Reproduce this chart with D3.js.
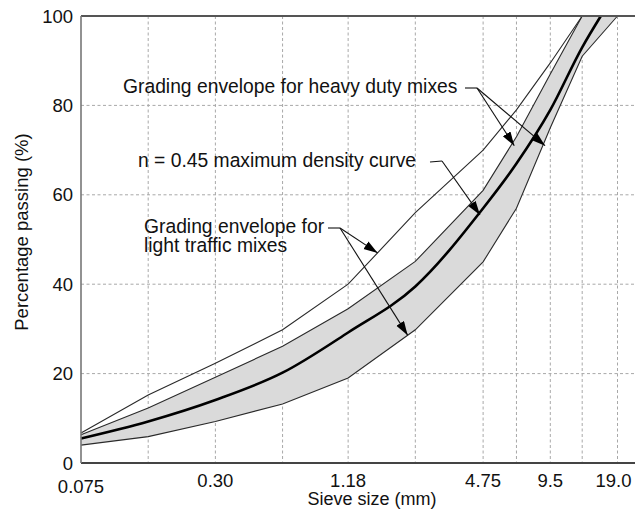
<!DOCTYPE html>
<meta charset="utf-8" />
<style>
    body { margin: 0; background: #fff; }
    svg { display: block; font-family: "Liberation Sans", Arial, sans-serif; }
    .grid line { stroke: #a8a8a8; stroke-width: 1; stroke-dasharray: 3, 2.5; }
    .env { fill: none; stroke: #2a2a2a; stroke-width: 1.1; }
    .leader { fill: none; stroke: #111; stroke-width: 1.1; }
</style>
<svg width="635" height="511"></svg>
<script src="https://d3js.org/d3.v7.min.js"></script>
<script>
    // sieve sizes (mm) on the log axis
    var sieveSizes = [0.075, 0.15, 0.3, 0.6, 1.18, 2.36, 4.75, 6.7, 9.5, 13.2, 19.0];
    var tickSizes = [0.075, 0.3, 1.18, 4.75, 9.5, 19.0];
    var tickLabels = ["0.075", "0.30", "1.18", "4.75", "9.5", "19.0"];
    var yTicks = [0, 20, 40, 60, 80, 100];

    // upper line of the envelopes (topmost thin line), up to 13.2 mm
    var upperLine = [6.7, 15.2, 22.3, 29.8, 40, 56, 70, 79, 89.5, 100];
    // upper edge of the shaded band, up to 13.2 mm
    var bandUpper = [6.3, 12.3, 19.2, 26.1, 34.5, 45.1, 61, 73, 87, 100];
    // lower edge of the shaded band, up to 19.0 mm
    var bandLower = [4.0, 5.9, 9.3, 13.2, 19.0, 29.8, 45, 57, 75, 91, 100];
    // n = 0.45 maximum density curve
    var densitySizes = [0.075, 0.15, 0.3, 0.6, 1.18, 2.36, 4.75, 6.7, 9.5, 13.2, 16.0];
    var densityPassing = [5.5, 9.3, 14.1, 20.2, 29.2, 39.5, 57, 67, 79, 93, 100];

    var svg = d3.select("svg");

    var x = d3.scaleLog().domain([0.075, 19.0]).range([81, 617.5]);
    var y = d3.scaleLinear().domain([0, 100]).range([463, 16]);

    function pts(sizes, vals) {
        return vals.map(function (v, i) {
            return [sizes[i], v];
        });
    }

    var line = d3.line()
        .x(function (d) { return x(d[0]); })
        .y(function (d) { return y(d[1]); });

    var smooth = d3.line()
        .x(function (d) { return x(d[0]); })
        .y(function (d) { return y(d[1]); })
        .curve(d3.curveMonotoneX);

    // grid
    var grid = svg.append("g").attr("class", "grid");
    grid.selectAll("line.h")
        .data(yTicks.filter(function (d) { return d > 0 && d < 100; }))
        .enter()
        .append("line")
        .attr("class", "h")
        .attr("x1", x(0.075))
        .attr("x2", 635)
        .attr("y1", function (d) { return y(d); })
        .attr("y2", function (d) { return y(d); });
    grid.selectAll("line.v")
        .data(sieveSizes.slice(1))
        .enter()
        .append("line")
        .attr("class", "v")
        .attr("x1", function (d) { return x(d); })
        .attr("x2", function (d) { return x(d); })
        .attr("y1", y(100))
        .attr("y2", y(0));

    // shaded band
    var upperPts = pts(sieveSizes, bandUpper);
    var lowerPts = pts(sieveSizes, bandLower);
    svg.append("path")
        .attr("d", line(upperPts.concat(lowerPts.slice().reverse())) + "Z")
        .attr("fill", "#dadada")
        .attr("stroke", "none");

    svg.append("path").attr("class", "env").attr("d", line(upperPts));
    svg.append("path").attr("class", "env").attr("d", line(lowerPts));
    svg.append("path").attr("class", "env").attr("d", line(pts(sieveSizes, upperLine)));

    svg.append("path")
        .attr("d", smooth(pts(densitySizes, densityPassing)))
        .attr("fill", "none")
        .attr("stroke", "#000")
        .attr("stroke-width", 2.6);

    // frame
    svg.append("line").attr("x1", x(0.075)).attr("x2", 635).attr("y1", y(100)).attr("y2", y(100))
        .attr("stroke", "#555").attr("stroke-width", 2);
    svg.append("line").attr("x1", x(0.075)).attr("x2", 635).attr("y1", y(0)).attr("y2", y(0))
        .attr("stroke", "#444").attr("stroke-width", 2);
    svg.append("line").attr("x1", x(0.075)).attr("x2", x(0.075)).attr("y1", y(100)).attr("y2", y(0))
        .attr("stroke", "#777").attr("stroke-width", 1.6);

    // tick labels
    svg.append("g").selectAll("text")
        .data(yTicks)
        .enter()
        .append("text")
        .attr("x", 73)
        .attr("y", function (d) { return y(d); })
        .attr("dy", "0.36em")
        .attr("text-anchor", "end")
        .attr("font-size", 18.5)
        .attr("fill", "#111")
        .text(function (d) { return d; });

    svg.append("g").selectAll("text")
        .data(tickSizes)
        .enter()
        .append("text")
        .attr("x", function (d, i) { return i == tickSizes.length - 1 ? x(d) - 4 : x(d); })
        .attr("y", function (d, i) { return i == 0 ? 493 : 487; })
        .attr("text-anchor", "middle")
        .attr("font-size", 18.5)
        .attr("fill", "#111")
        .text(function (d, i) { return tickLabels[i]; });

    svg.append("text")
        .attr("x", 372)
        .attr("y", 505)
        .attr("text-anchor", "middle")
        .attr("font-size", 18)
        .attr("fill", "#111")
        .text("Sieve size (mm)");

    svg.append("text")
        .attr("transform", "translate(28,232) rotate(-90)")
        .attr("text-anchor", "middle")
        .attr("font-size", 18.5)
        .attr("fill", "#111")
        .text("Percentage passing (%)");

    // arrow heads
    svg.append("defs").append("marker")
        .attr("id", "head")
        .attr("markerUnits", "userSpaceOnUse")
        .attr("markerWidth", 16)
        .attr("markerHeight", 10)
        .attr("refX", 14)
        .attr("refY", 4.5)
        .attr("orient", "auto")
        .append("path")
        .attr("d", "M0,0 L14,4.5 L0,9 Z")
        .attr("fill", "#000");

    // annotations: text, leader start (px), arrow tips in data units
    var notes = [
        { lines: ["Grading envelope for heavy duty mixes"], tx: 123, ty: 93,
          lead: [[465, 88], [477, 88]], tips: [[6.55, 71], [9.0, 71]] },
        { lines: ["n = 0.45 maximum density curve"], tx: 138, ty: 167,
          lead: [[430, 162], [442, 161]], tips: [[4.6, 55.5]] },
        { lines: ["Grading envelope for", "light traffic mixes"], tx: 144, ty: 233,
          lead: [[328, 228], [340, 228]], tips: [[1.6, 47], [2.18, 28.6]] }
    ];

    notes.forEach(function (n) {
        var t = svg.append("text")
            .attr("x", n.tx)
            .attr("y", n.ty)
            .attr("font-size", 19.3)
            .attr("fill", "#111");
        n.lines.forEach(function (s, i) {
            t.append("tspan").attr("x", n.tx).attr("dy", i == 0 ? 0 : 19).text(s);
        });
        var knee = n.lead[1];
        svg.append("path").attr("class", "leader")
            .attr("d", "M" + n.lead[0] + "L" + knee);
        n.tips.forEach(function (tp) {
            svg.append("path").attr("class", "leader")
                .attr("d", "M" + knee + "L" + x(tp[0]) + "," + y(tp[1]))
                .attr("marker-end", "url(#head)");
        });
    });
</script>
